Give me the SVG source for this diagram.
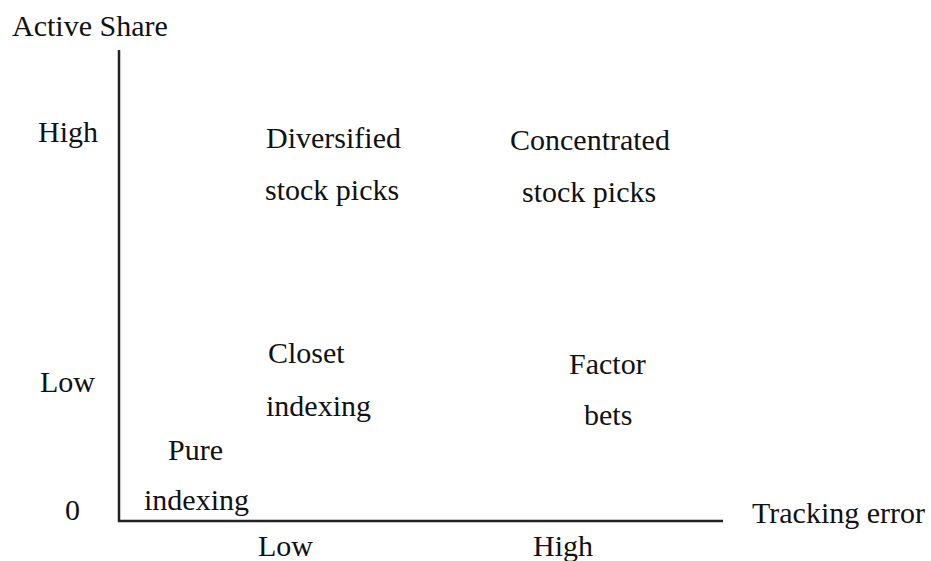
<svg xmlns="http://www.w3.org/2000/svg" width="931" height="561" viewBox="0 0 931 561">
<style>
text{font-family:"Liberation Serif","Times New Roman",serif;font-size:30px;fill:#111}
.ax{stroke:#222;stroke-width:2.5;fill:none}
</style>
<rect width="931" height="561" fill="#fff"/>
<g id="axes">
<path class="ax" d="M119,50 V521 H723"/>
</g>
<g id="labels">
<text x="12" y="36">Active Share</text>
<text x="38" y="142">High</text>
<text x="40" y="392">Low</text>
<text x="65" y="520">0</text>
<text x="752" y="523">Tracking error</text>
<text x="258" y="556">Low</text>
<text x="533" y="556">High</text>
</g>
<g id="diversified"><text x="266" y="148">Diversified</text><text x="265" y="200">stock picks</text></g>
<g id="concentrated"><text x="510" y="150">Concentrated</text><text x="522" y="202">stock picks</text></g>
<g id="closet"><text x="268" y="363">Closet</text><text x="266" y="416">indexing</text></g>
<g id="factor"><text x="569" y="374">Factor</text><text x="584" y="425">bets</text></g>
<g id="pure"><text x="168" y="460">Pure</text><text x="144" y="510">indexing</text></g>
</svg>
